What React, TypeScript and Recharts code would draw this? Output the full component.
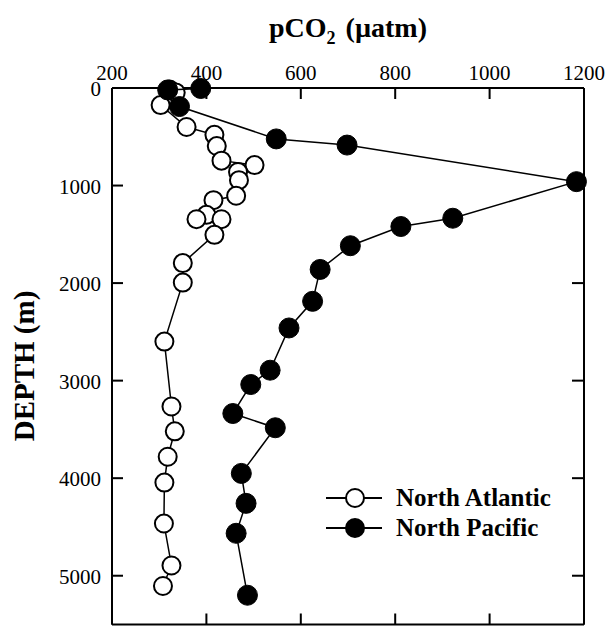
import React from "react";
import { ScatterChart, Scatter, XAxis, YAxis, Customized } from "recharts";

// North Atlantic profile (open circles)
const atlanticDepth = [15, 45, 175, 400, 480, 595, 745, 790, 860, 945, 1105, 1150, 1300, 1345, 1345, 1505, 1795, 1995, 2600, 3265, 3520, 3780, 4045, 4465, 4895, 5105];
const atlanticPco2 = [322, 335, 303, 358, 417, 422, 432, 502, 467, 469, 463, 415, 400, 379, 432, 417, 350, 350, 311, 326, 333, 318, 311, 310, 326, 308];

// North Pacific profile (filled circles)
const pacificDepth = [5, 20, 190, 522, 585, 960, 1335, 1420, 1617, 1860, 2187, 2460, 2893, 3040, 3337, 3483, 3951, 4258, 4565, 5200];
const pacificPco2 = [388, 318, 343, 548, 698, 1184, 922, 812, 705, 641, 625, 575, 535, 494, 456, 546, 474, 484, 463, 487];

const seriesNames = ["North Atlantic", "North Pacific"];
const pco2Ticks = [200, 400, 600, 800, 1000, 1200];
const depthTicks = [0, 1000, 2000, 3000, 4000, 5000];

const atlantic = atlanticDepth.map((d, i) => ({ pco2: atlanticPco2[i], depth: d }));
const pacific = pacificDepth.map((d, i) => ({ pco2: pacificPco2[i], depth: d }));

const W = 607;
const H = 626;
const LEFT = 112;
const TOP = 88;
const RIGHT = 584;
const BOTTOM = 624.5;
const TICK = 11;
const FONT = "'Liberation Serif', 'Times New Roman', serif";

const renderTopTick = (props: any) => (
  <text x={props.x} y={TOP - 8} textAnchor="middle" fontFamily={FONT} fontSize={21} fill="#000">
    {props.payload.value}
  </text>
);

const renderLeftTick = (props: any) => (
  <text x={LEFT - 11} y={props.y + 8} textAnchor="end" fontFamily={FONT} fontSize={21} fill="#000">
    {props.payload.value}
  </text>
);

// inward pointing tick marks on all four sides of the box
const renderTopMark = (props: any) => (
  <rect x={props.x - 1} y={TOP} width={2} height={TICK} fill="#000" />
);
const renderLeftMark = (props: any) => (
  <rect x={LEFT} y={props.y - 1} width={TICK} height={2} fill="#000" />
);
const renderBottomMark = (props: any) => (
  <rect x={props.x - 1} y={BOTTOM - TICK} width={2} height={TICK} fill="#000" />
);
const renderRightMark = (props: any) => (
  <rect x={RIGHT - TICK - 1} y={props.y - 1} width={TICK + 1} height={2} fill="#000" />
);

const openDot = (props: any) => (
  <circle cx={props.cx} cy={props.cy} r={9} fill="#fff" stroke="#000" strokeWidth={2} />
);
const filledDot = (props: any) => (
  <circle cx={props.cx} cy={props.cy} r={10} fill="#000" stroke="#000" strokeWidth={1} />
);
const noDot = () => <g />;

const Overlay = () => (
  <g fontFamily={FONT} fill="#000">
    <text x={348} y={37} textAnchor="middle" fontWeight="bold" fontSize={28}>
      pCO<tspan fontSize={18} dy={7}>2</tspan>
      <tspan dy={-7} dx={10}>(µatm)</tspan>
    </text>
    <text
      x={0}
      y={0}
      transform="translate(34, 366) rotate(-90)"
      textAnchor="middle"
      fontWeight="bold"
      fontSize={29}
    >
      DEPTH (m)
    </text>
    {seriesNames.map((name, i) => {
      const y = 498 + i * 30;
      return (
        <g key={name}>
          <line x1={326} x2={382} y1={y} y2={y} stroke="#000" strokeWidth={2} />
          <circle cx={355} cy={y} r={9} fill={i === 0 ? "#fff" : "#000"} stroke="#000" strokeWidth={2} />
          <text x={396} y={y + 8} fontWeight="bold" fontSize={25}>
            {name}
          </text>
        </g>
      );
    })}
  </g>
);

const xAxisCommon = {
  type: "number" as const,
  dataKey: "pco2",
  domain: [200, 1200],
  ticks: pco2Ticks,
  interval: 0,
  tickLine: false,
};
const yAxisCommon = {
  type: "number" as const,
  dataKey: "depth",
  domain: [0, 5500],
  reversed: true,
  ticks: depthTicks,
  interval: 0,
  tickLine: false,
};

export default function App() {
  return (
    <div style={{ position: "absolute", left: 0, top: 0, width: W, height: H, background: "#fff" }}>
      <ScatterChart
        width={W}
        height={H}
        margin={{ top: TOP - 31, left: LEFT - 61, right: W - RIGHT - 1, bottom: H - BOTTOM - 1 }}
      >
        <XAxis {...xAxisCommon} xAxisId="top" orientation="top" height={30} tick={renderTopTick}
          axisLine={{ stroke: "#000", strokeWidth: 2 }} />
        <XAxis {...xAxisCommon} xAxisId="topMarks" orientation="top" height={1} tick={renderTopMark}
          axisLine={false} />
        <XAxis {...xAxisCommon} xAxisId="bottom" orientation="bottom" height={1} tick={renderBottomMark}
          axisLine={{ stroke: "#000", strokeWidth: 2 }} />
        <YAxis {...yAxisCommon} yAxisId="left" width={60} tick={renderLeftTick}
          axisLine={{ stroke: "#000", strokeWidth: 2 }} />
        <YAxis {...yAxisCommon} yAxisId="leftMarks" width={1} tick={renderLeftMark} axisLine={false} />
        <YAxis {...yAxisCommon} yAxisId="right" orientation="right" width={1} tick={renderRightMark}
          axisLine={{ stroke: "#000", strokeWidth: 2 }} />
        <Scatter data={pacific} xAxisId="bottom" yAxisId="right" shape={noDot} legendType="none"
          isAnimationActive={false} />
        <Scatter data={pacific} xAxisId="topMarks" yAxisId="leftMarks" shape={noDot} legendType="none"
          isAnimationActive={false} />
        <Scatter
          name={seriesNames[0]}
          data={atlantic}
          xAxisId="top"
          yAxisId="left"
          line={{ stroke: "#000", strokeWidth: 1.5 }}
          lineType="joint"
          shape={openDot}
          isAnimationActive={false}
        />
        <Scatter
          name={seriesNames[1]}
          data={pacific}
          xAxisId="top"
          yAxisId="left"
          line={{ stroke: "#000", strokeWidth: 1.5 }}
          lineType="joint"
          shape={filledDot}
          isAnimationActive={false}
        />
        <Customized component={Overlay} />
      </ScatterChart>
    </div>
  );
}
